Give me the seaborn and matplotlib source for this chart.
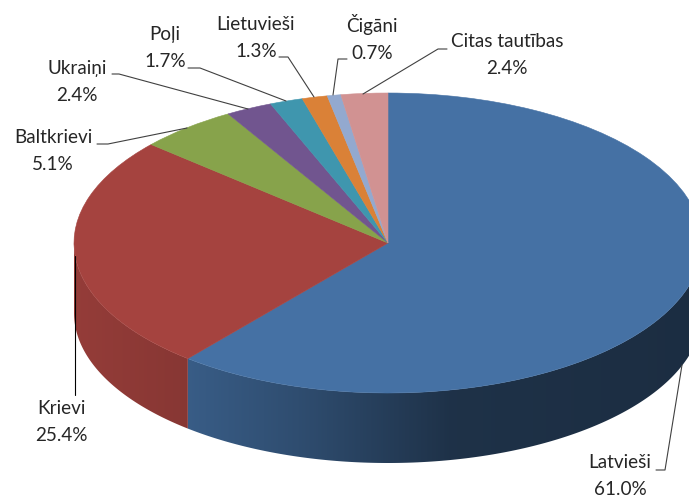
import numpy as np
import matplotlib
matplotlib.use("Agg")
import matplotlib.pyplot as plt
from matplotlib.patches import Polygon
from matplotlib.transforms import Affine2D
import seaborn as sns

sns.set_theme(style="white")
plt.rcParams['font.family'] = ['Lato', 'DejaVu Sans']

# data
names = ["Latvieši", "Krievi", "Baltkrievi", "Ukraiņi", "Poļi", "Lietuvieši", "Čigāni", "Citas tautības"]
shares = [61.0, 25.4, 5.1, 2.4, 1.7, 1.3, 0.7, 2.4]
colors = ["#4571A4", "#A5433F", "#87A34B", "#71558F", "#3F96AE", "#DA8137", "#93A9CF", "#D19292"]

# layout, in pixels of the 689x498 picture
W, H = 689, 498
cx, cy = 388, 243
rx, ry = 314, 150
depth = 70 / ry
label_xy = [(620, 476), (61, 422), (53, 151), (77, 82), (165, 48), (256, 38), (372, 38), (507, 55)]
leaders = [
    ([656, 665, 682], [470, 470, 365]),
    ([75, 75], [256, 395]),
    ([97, 108, 187], [144, 144, 128]),
    ([112, 119, 248], [74, 74, 109]),
    ([188, 200, 286], [68, 68, 101]),
    ([279, 288, 314], [57, 57, 97]),
    ([347, 338, 333], [59, 59, 95]),
    ([447, 438, 363], [49, 49, 94]),
]
leader_colors = ["#404040", "#000000"] + ["#404040"] * 6

palette = sns.color_palette(colors)

fig = plt.figure(figsize=(W / 100, H / 100), dpi=100)
ax = fig.add_axes([0, 0, 1, 1])

wedges, _ = ax.pie(shares, colors=palette, startangle=90, counterclock=False,
                   wedgeprops={"linewidth": 0.4, "zorder": 2})
for wedge, col in zip(wedges, palette):
    wedge.set_edgecolor(col)

# side wall of the pie, a left to right gradient clipped to each wedge
xgrid = np.linspace(-1, 1, 400)
shade = np.interp(xgrid, [-1, -0.64, -0.28, 0.2, 1], [0.9, 0.82, 0.68, 0.44, 0.40])
for wedge, col in zip(wedges, palette):
    a0 = max(wedge.theta1, -180)
    a1 = min(wedge.theta2, 0)
    if a1 <= a0:
        continue
    t = np.radians(np.linspace(a0, a1, 200))
    xs = np.concatenate([np.cos(t), np.cos(t[::-1])])
    ys = np.concatenate([np.sin(t), np.sin(t[::-1]) - depth])
    grad = np.outer(shade, col).reshape(1, len(xgrid), 3)
    img = ax.imshow(grad, extent=(-1, 1, -1 - depth, 0), aspect="auto", zorder=1, interpolation="bilinear")
    clip = Polygon(np.column_stack([xs, ys]), closed=True, transform=ax.transData)
    img.set_clip_path(clip)

ax.set_aspect("auto")
ax.set_xlim(-cx / rx, (W - cx) / rx)
ax.set_ylim((cy - H) / ry, cy / ry)

# labels and leader lines
for name, share, (x, y) in zip(names, shares, label_xy):
    fig.text(x / W, 1 - y / H, "{}\n{:.1f}%".format(name, share), ha="center", va="center",
             fontsize=13.6, color="#262626", linespacing=1.72)

to_pixels = Affine2D().scale(1, -1).translate(0, H)
for (xs, ys), col in zip(leaders, leader_colors):
    ax.plot(xs, ys, color=col, lw=0.8, transform=to_pixels, zorder=3, clip_on=False)

fig.savefig("out.png", dpi=100)
